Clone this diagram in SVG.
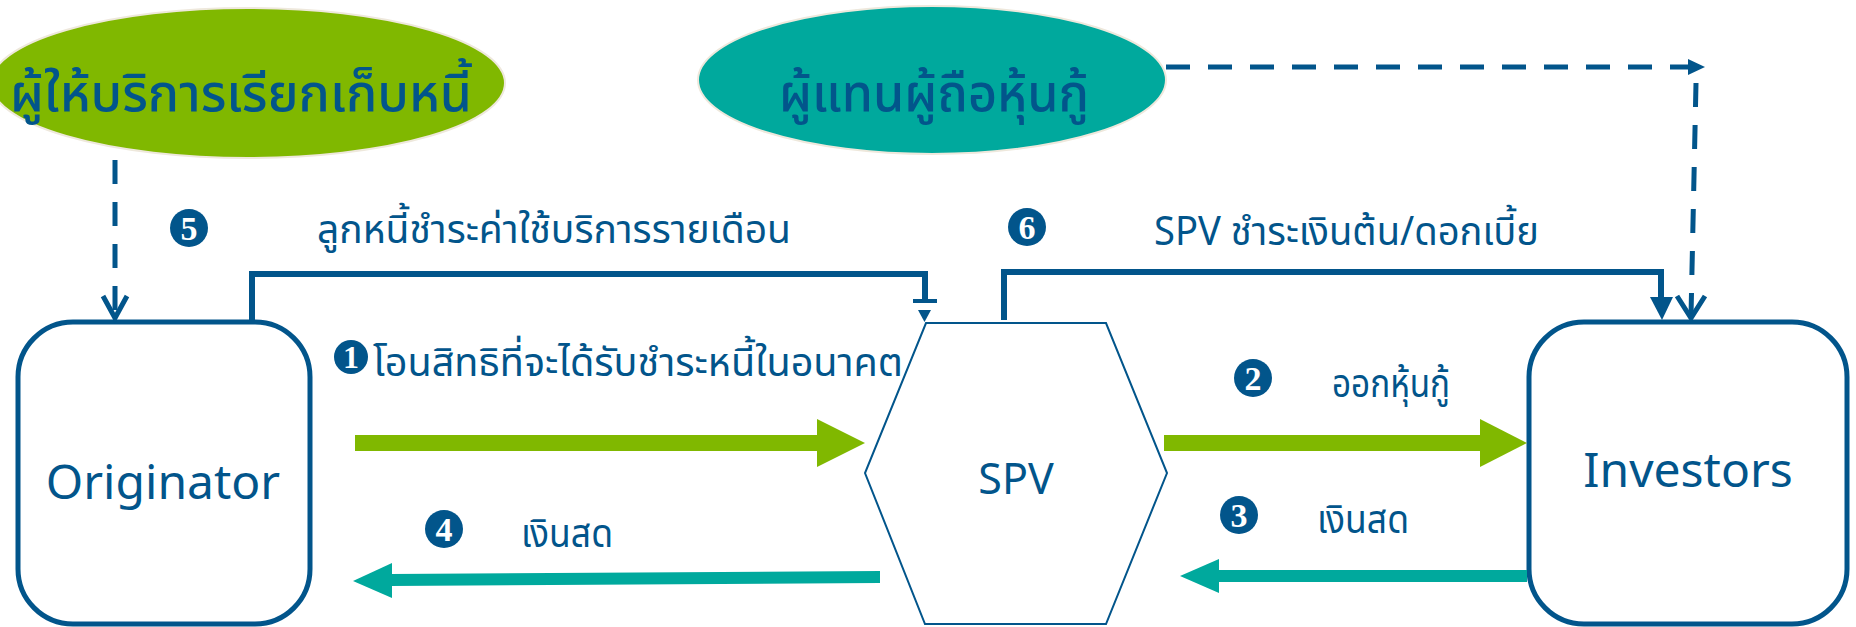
<svg xmlns="http://www.w3.org/2000/svg" width="1856" height="627" viewBox="0 0 1856 627">
<defs>
<style>
.th{font-family:"Noto Sans Thai","Noto Sans","DejaVu Sans",sans-serif;fill:#02558B}
.big{font-weight:500}
.en{font-family:"Noto Sans","Open Sans",sans-serif;fill:#02558B}
.num{font-family:"Liberation Serif",serif;font-weight:bold;fill:#fff;text-anchor:middle}
.box{fill:#fff;stroke:#02558B;stroke-width:5}
.dash{fill:none;stroke:#02558B;stroke-width:5;stroke-dasharray:24 18}
.brk{fill:none;stroke:#02558B;stroke-width:6}
.badge{fill:#02558B}
</style>
</defs>

<g id="collector">
<ellipse cx="248" cy="83" rx="257" ry="75" fill="#80B800" stroke="#EEE8DC" stroke-width="2"/>
<text class="th big" x="10" y="111" font-size="52" textLength="462" lengthAdjust="spacingAndGlyphs">ผู้ให้บริการเรียกเก็บหนี้</text>
</g>

<g id="trustee">
<ellipse cx="932" cy="80" rx="234" ry="74" fill="#00A99D" stroke="#EEE8DC" stroke-width="2"/>
<text class="th big" x="779" y="111" font-size="52" textLength="310" lengthAdjust="spacingAndGlyphs">ผู้แทนผู้ถือหุ้นกู้</text>
</g>

<g id="originator">
<rect class="box" x="18" y="322" width="292" height="302" rx="55"/>
<text class="en" x="163" y="499" font-size="48" text-anchor="middle">Originator</text>
</g>

<g id="spv">
<polygon points="926,323 1106,323 1167,473 1106,624 925,624 865,473" fill="#fff" stroke="#02558B" stroke-width="2"/>
<text class="en" x="1016" y="494" font-size="43" text-anchor="middle">SPV</text>
</g>

<g id="investors">
<rect class="box" x="1529" y="322" width="318" height="302" rx="55"/>
<text class="en" x="1688" y="487" font-size="48" text-anchor="middle">Investors</text>
</g>

<g id="connectors">
<path class="dash" d="M115,160 L115,316"/>
<path d="M103,296 L115,318 L127,296" fill="none" stroke="#02558B" stroke-width="5"/>
<path class="dash" d="M1166,67 L1690,67"/>
<polygon points="1688,59 1705,67 1688,75" fill="#02558B"/>
<path class="dash" d="M1696,83 L1691,316" stroke-dasharray="24 14"/>
<path d="M1677,296 L1691,318 L1705,296" fill="none" stroke="#02558B" stroke-width="5"/>
<path class="brk" d="M252,320 L252,274 L925,274 L925,301"/>
<path d="M913,301 L937,301" stroke="#02558B" stroke-width="4"/>
<polygon points="918,310 931,310 924.5,322" fill="#02558B"/>
<path class="brk" d="M1004,320 L1004,272 L1661,272 L1661,298"/>
<polygon points="1650,297 1673,297 1662,320" fill="#02558B"/>
<rect x="355" y="435" width="464" height="16" fill="#80B800"/>
<polygon points="817,419 865,443 817,467" fill="#80B800"/>
<rect x="1164" y="435" width="318" height="16" fill="#80B800"/>
<polygon points="1480,419 1527,443 1480,467" fill="#80B800"/>
<polygon points="880,571 880,583 390,586 390,574" fill="#00A99D"/>
<polygon points="392,563 353,581 392,598" fill="#00A99D"/>
<rect x="1216" y="570" width="311" height="12" fill="#00A99D"/>
<polygon points="1219,559 1180,576 1219,593" fill="#00A99D"/>
</g>

<g id="labels">
<circle class="badge" cx="351" cy="357" r="17"/>
<text class="num" x="351" y="368" font-size="32">1</text>
<text class="th" x="373" y="376" font-size="40" textLength="530" lengthAdjust="spacingAndGlyphs">โอนสิทธิที่จะได้รับชำระหนี้ในอนาคต</text>

<circle class="badge" cx="1253" cy="378" r="19"/>
<text class="num" x="1253" y="390" font-size="34">2</text>
<text class="th" x="1332" y="397" font-size="40" textLength="118" lengthAdjust="spacingAndGlyphs">ออกหุ้นกู้</text>

<circle class="badge" cx="1239" cy="515" r="19"/>
<text class="num" x="1239" y="527" font-size="34">3</text>
<text class="th" x="1317" y="533" font-size="40" textLength="92" lengthAdjust="spacingAndGlyphs">เงินสด</text>

<circle class="badge" cx="444" cy="529" r="19"/>
<text class="num" x="444" y="541" font-size="34">4</text>
<text class="th" x="521" y="547" font-size="40" textLength="92" lengthAdjust="spacingAndGlyphs">เงินสด</text>

<circle class="badge" cx="189" cy="228" r="19"/>
<text class="num" x="189" y="240" font-size="34">5</text>
<text class="th" x="317" y="243" font-size="40" textLength="474" lengthAdjust="spacingAndGlyphs">ลูกหนี้ชำระค่าใช้บริการรายเดือน</text>

<circle class="badge" cx="1027" cy="227" r="19"/>
<text class="num" x="1027" y="239" font-size="34">6</text>
<text class="th" x="1154" y="245" font-size="40" textLength="385" lengthAdjust="spacingAndGlyphs">SPV ชำระเงินต้น/ดอกเบี้ย</text>
</g>
</svg>
